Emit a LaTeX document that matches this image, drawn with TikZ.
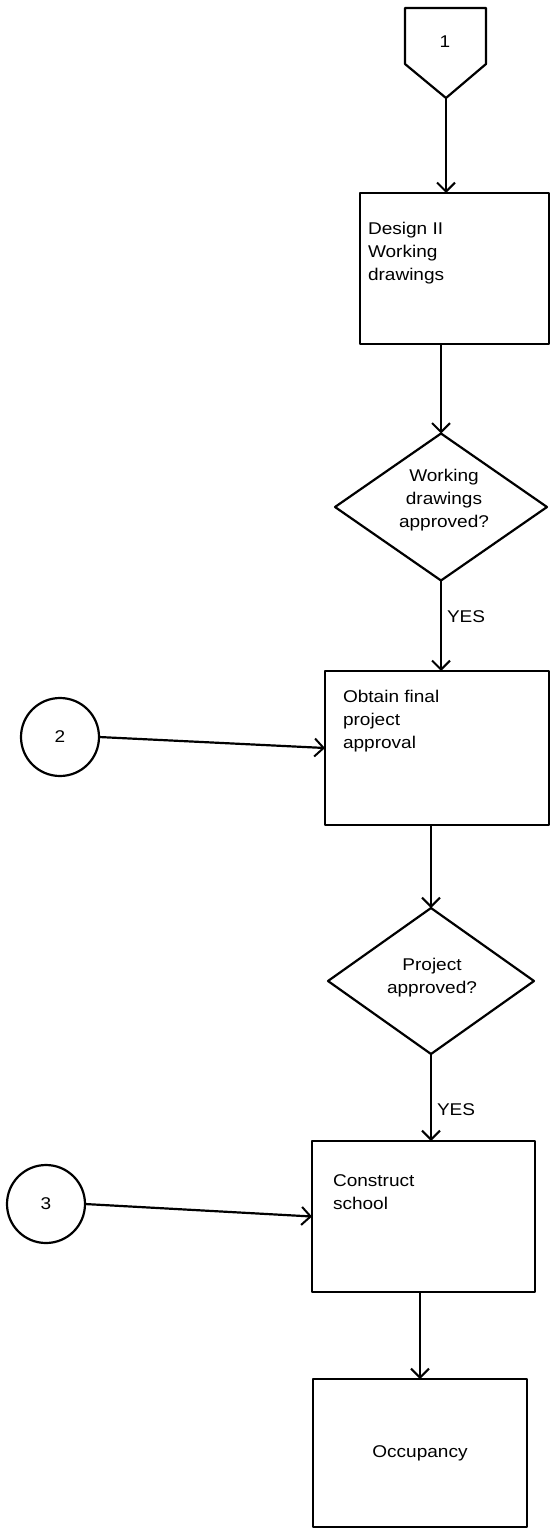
\documentclass[tikz,border=0pt]{standalone}
\usepackage{fontspec}
\setmainfont{Liberation Sans}[FakeStretch=1.12]
\usetikzlibrary{shapes.geometric,arrows.meta}

\begin{document}
\begin{tikzpicture}[x=1pt,y=-1pt,
  every node/.style={inner sep=0pt,outer sep=0pt},
  flow/.style={line width=2.2pt,line join=round},
  link/.style={flow,-{Straight Barb[length=9pt,width=18pt,line width=2pt]}},
  stepbox/.style={draw,flow,rectangle,minimum width=#1},
  decision/.style={draw,flow,diamond},
  connector/.style={draw,flow,circle,minimum size=78pt},
  label/.style={font=\fontsize{17}{23}\selectfont,align=left},
  yes/.style={font=\fontsize{17}{23}\selectfont,anchor=west}
]
\useasboundingbox (0,0) rectangle (551,1530);

% off-page connector at the top
\coordinate (p1) at (405,8);
\coordinate (p2) at (486,8);
\coordinate (p3) at (486,64);
\coordinate (tip) at (446,98);
\coordinate (p5) at (405,64);
\draw[flow] (p1) -- (p2) -- (p3) -- (tip) -- (p5) -- cycle;
\node[label] (n1) at (445,42) {1};

% process boxes
\node[stepbox=189pt,minimum height=151pt] (design) at (454.5,268.5) {};
\node[label,anchor=north west] (tdesign) at (368,222) {Design II\\Working\\drawings};

\node[decision,minimum width=212pt,minimum height=147pt] (d1) at (441,507) {};
\node[label,align=center] (td1) at (444,500) {Working\\drawings\\approved?};

\node[stepbox=224pt,minimum height=154pt] (obtain) at (437,748) {};
\node[label,anchor=north west] (tobtain) at (343,690) {Obtain final\\project\\approval};

\node[decision,minimum width=206pt,minimum height=146pt] (d2) at (431,981) {};
\node[label,align=center] (td2) at (432,978) {Project\\approved?};

\node[stepbox=223pt,minimum height=151pt] (construct) at (423.5,1216.5) {};
\node[label,anchor=north west] (tconstruct) at (333,1175) {Construct\\school};

\node[stepbox=214pt,minimum height=148pt] (occ) at (420,1453) {};
\node[label] (tocc) at (420,1453) {Occupancy};

% entry connectors
\node[connector] (c2) at (60,737) {};
\node[label] (t2) at (60,737) {2};
\node[connector] (c3) at (46,1204) {};
\node[label] (t3) at (46,1204) {3};

% flow lines
\draw[link] (tip) -- (tip |- design.north);
\draw[link] (d1.north |- design.south) -- (d1.north);
\draw[link] (d1.south) -- (d1.south |- obtain.north);
\draw[link] (d2.north |- obtain.south) -- (d2.north);
\draw[link] (d2.south) -- (d2.south |- construct.north);
\draw[link] (occ.north |- construct.south) -- (occ.north);
\draw[link] (c2.east) -- (obtain.west);
\draw[link] (c3.east) -- (construct.west);

\node[yes] (yes1) at (447,617) {YES};
\node[yes] (yes2) at (437,1110) {YES};
\end{tikzpicture}
\end{document}
